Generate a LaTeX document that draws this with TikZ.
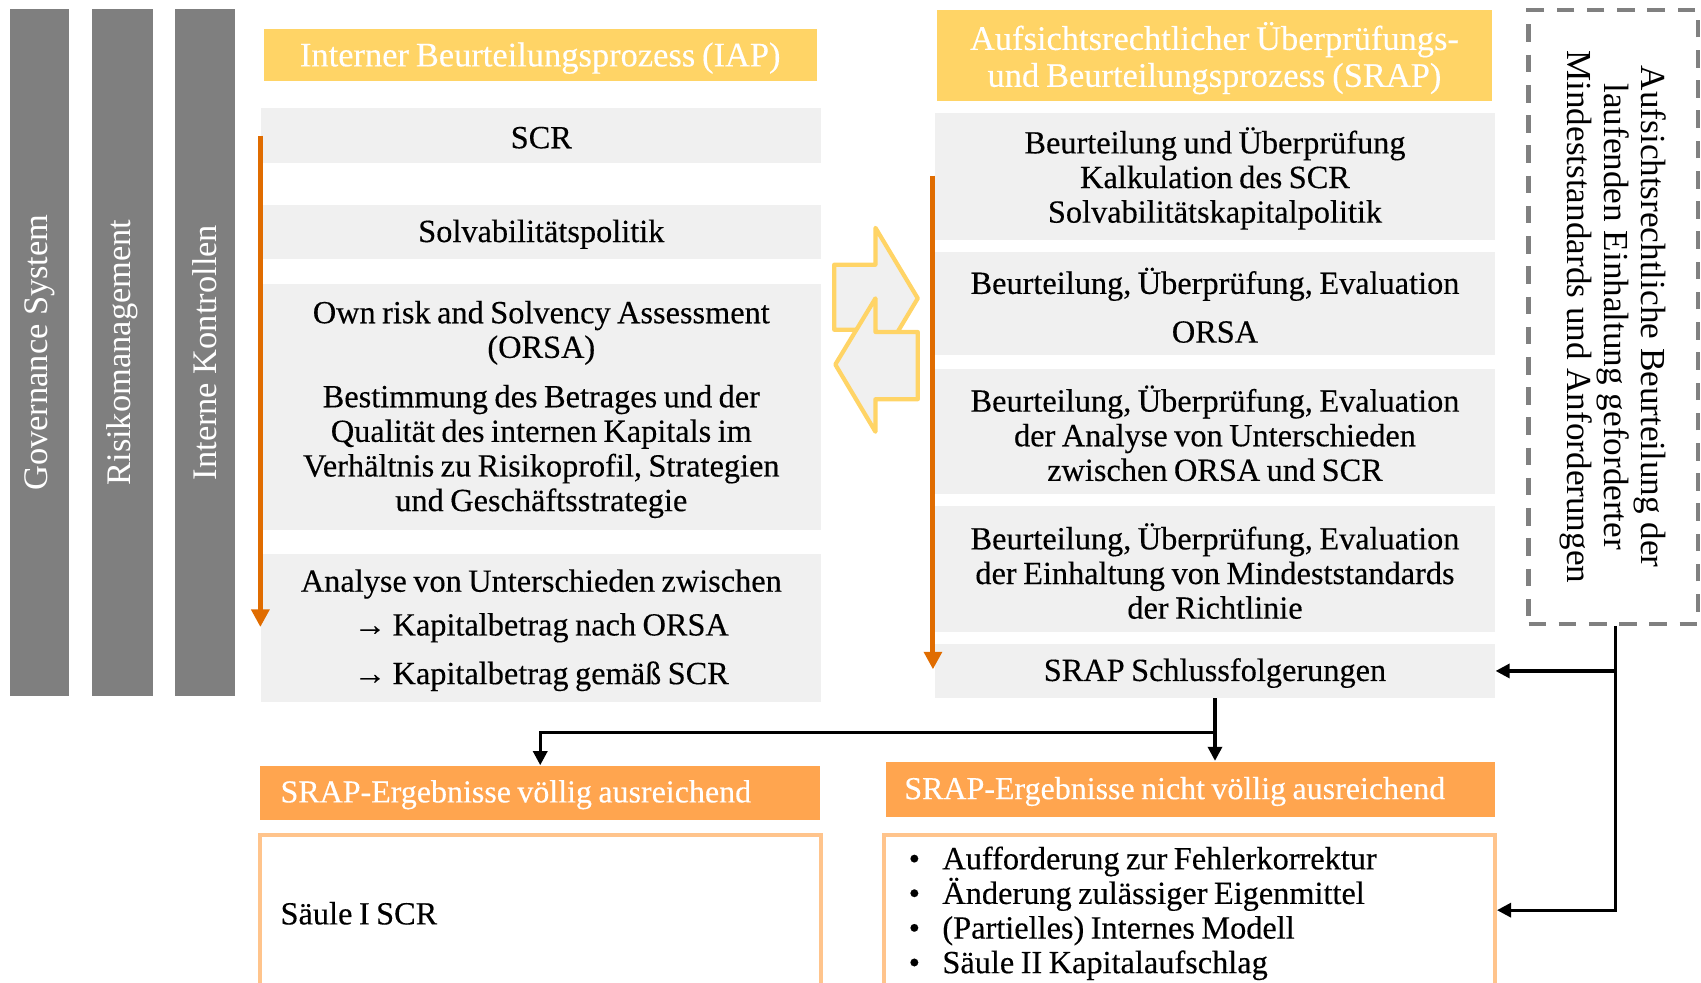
\documentclass[tikz,border=0pt]{standalone}
\usepackage{fontspec}
\setmainfont{Liberation Serif}[WordSpace=0.8, FakeBold=0.3]
\newfontfamily\notefont{Liberation Serif}
\usetikzlibrary{fit,arrows.meta}

\definecolor{bargray}{HTML}{7F7F7F}
\definecolor{boxgray}{HTML}{F0F0F0}
\definecolor{headyellow}{HTML}{FFD466}
\definecolor{headorange}{HTML}{FFA54F}
\definecolor{frameorange}{HTML}{FFC48C}
\definecolor{flowarrow}{HTML}{E06C00}
\definecolor{dashgray}{HTML}{808080}

\begin{document}
\begin{tikzpicture}[x=0.010848cm, y=-0.010848cm,
  bodytext/.style={font=\fontsize{9.2}{9.85}\selectfont, align=center, inner sep=0pt, yshift=-0.6pt},
  titletext/.style={font=\fontsize{9.8}{10.5}\selectfont, text=white, align=center, inner sep=0pt, yshift=-0.8pt},
  resulttitle/.style={font=\fontsize{9.1}{10.5}\selectfont, text=white, inner sep=0pt, anchor=west, yshift=-0.5pt},
  bartext/.style={font=\notefont\fontsize{9.8}{11}\selectfont, text=white, rotate=90, inner sep=0pt},
  panel/.style={fit={#1}, inner sep=0pt, fill=boxgray},
  yellowhead/.style={fit={#1}, inner sep=0pt, fill=headyellow},
  orangehead/.style={fit={#1}, inner sep=0pt, fill=headorange},
  pillar/.style={fit={#1}, inner sep=0pt, fill=bargray},
  resultbox/.style={fit={#1}, inner sep=0pt, draw=frameorange, line width=1.2pt, fill=white},
  blockarrow/.style={draw=headyellow, line width=1.2pt, fill=boxgray, line join=round},
  flow/.style={draw=flowarrow, line width=1.4pt, -{Triangle[length=5pt,width=5pt]}},
  conn/.style={draw=black, line width=0.9pt},
  connarrow/.style={conn, -{Triangle[length=4pt,width=4pt]}}]
\clip (0,0) rectangle (1568,906);

% pillars on the left
\node[pillar={(9,8) (64,642)}] (gov) {};
\node[pillar={(85,8) (141,642)}] (risk) {};
\node[pillar={(161,8) (217,642)}] (ctrl) {};
\node[bartext] (govtext) at (gov.center) {Governance System};
\node[bartext] (risktext) at (risk.center) {Risikomanagement};
\node[bartext] (ctrltext) at (ctrl.center) {Interne Kontrollen};

% internal assessment process (IAP)
\node[yellowhead={(243,27) (753,75)}] (iap) {};
\node[titletext] (iaptext) at (iap.center) {Interner Beurteilungsprozess (IAP)};
\node[panel={(241,100) (757,150)}] (scr) {};
\node[bodytext] (scrtext) at (scr.center) {SCR};
\node[panel={(241,189) (757,239)}] (solv) {};
\node[bodytext] (solvtext) at (solv.center) {Solvabilitätspolitik};
\node[panel={(241,262) (757,489)}] (orsa) {};
\node[bodytext] (orsatext) at (orsa.center) {Own risk and Solvency Assessment\\(ORSA)\\[4.2pt]
  Bestimmung des Betrages und der\\Qualität des internen Kapitals im\\Verhältnis zu Risikoprofil, Strategien\\und Geschäftsstrategie};
\node[panel={(241,511) (757,647)}] (diff) {};
\node[bodytext] (difftext) at (diff.center) {Analyse von Unterschieden zwischen\\[2.6pt]
  → Kapitalbetrag nach ORSA\\[4pt]→ Kapitalbetrag gemäß SCR};

\coordinate (iapflowtop) at (240,125);
\coordinate (iapflowend) at (240,578);
\draw[flow] (iapflowtop) -- (iapflowend);

% exchange arrows between both processes
\draw[blockarrow] (769,244) -- (807,244) -- (807,210) -- (846,275) -- (807,340) -- (807,304) -- (769,304) -- cycle;
\draw[blockarrow] (846,306) -- (807,306) -- (807,275) -- (770,336) -- (807,398) -- (807,368) -- (846,368) -- cycle;

% supervisory review process (SRAP)
\node[yellowhead={(864,9) (1375,93)}] (srap) {};
\node[titletext] (sraptext) at (srap.center) {Aufsichtsrechtlicher Überprüfungs-\\und Beurteilungsprozess (SRAP)};
\node[panel={(862,104) (1378,221)}] (s1) {};
\node[bodytext] (s1text) at (s1.center) {Beurteilung und Überprüfung\\Kalkulation des SCR\\Solvabilitätskapitalpolitik};
\node[panel={(862,232) (1378,327)}] (s2) {};
\node[bodytext] (s2text) at (s2.center) {Beurteilung, Überprüfung, Evaluation\\[4pt]ORSA};
\node[panel={(862,340) (1378,455)}] (s3) {};
\node[bodytext] (s3text) at (s3.center) {Beurteilung, Überprüfung, Evaluation\\der Analyse von Unterschieden\\zwischen ORSA und SCR};
\node[panel={(862,466) (1378,583)}] (s4) {};
\node[bodytext] (s4text) at (s4.center) {Beurteilung, Überprüfung, Evaluation\\der Einhaltung von Mindeststandards\\der Richtlinie};
\node[panel={(862,594) (1378,643)}] (concl) {};
\node[bodytext] (concltext) at (concl.center) {SRAP Schlussfolgerungen};

\coordinate (srapflowtop) at (860,162);
\coordinate (srapflowend) at (860,617);
\draw[flow] (srapflowtop) -- (srapflowend);

% ongoing supervisory assessment
\node[fit={(1409,9) (1565,575)}, inner sep=0pt, draw=dashgray, line width=1.2pt,
  dash pattern=on 5pt off 3.6pt] (watch) {};
\node[font=\notefont\fontsize{10}{10.6}\selectfont, align=center, rotate=-90, inner sep=0pt] (watchtext) at (watch.center)
  {Aufsichtsrechtliche Beurteilung der\\laufenden Einhaltung geforderter\\Mindeststandards und Anforderungen};

% outcomes
\node[orangehead={(240,706) (756,756)}] (ok) {};
\node[resulttitle] (oktext) at (258,731) {SRAP-Ergebnisse völlig ausreichend};
\node[resultbox={(240,770) (757,930)}] (okbox) {};
\node[bodytext, anchor=west] (okitem) at (258,840) {Säule I SCR};

\node[orangehead={(817,702) (1378,753)}] (nok) {};
\node[resulttitle] (noktext) at (833,728) {SRAP-Ergebnisse nicht völlig ausreichend};
\node[resultbox={(815,770) (1378,930)}] (nokbox) {};
\node[bodytext, align=left, anchor=west] (nokitems) at (837,840)
  {\makebox[9.6pt][l]{•}Aufforderung zur Fehlerkorrektur\\
   \makebox[9.6pt][l]{•}Änderung zulässiger Eigenmittel\\
   \makebox[9.6pt][l]{•}(Partielles) Internes Modell\\
   \makebox[9.6pt][l]{•}Säule II Kapitalaufschlag};

% connectors
\coordinate (watchfoot) at (watch.south -| 1489,0);
\coordinate (split) at (concl.south |- 0,675);
\draw[connarrow] (watchfoot) |- (nokbox.east |- 0,839);
\draw[connarrow] (watchfoot |- concl.east) -- (concl.east);
\draw[conn] (concl.south) -- (split);
\draw[connarrow] (split) -| (ok.north);
\draw[connarrow] (split) -- (split |- nok.north);
\end{tikzpicture}
\end{document}
